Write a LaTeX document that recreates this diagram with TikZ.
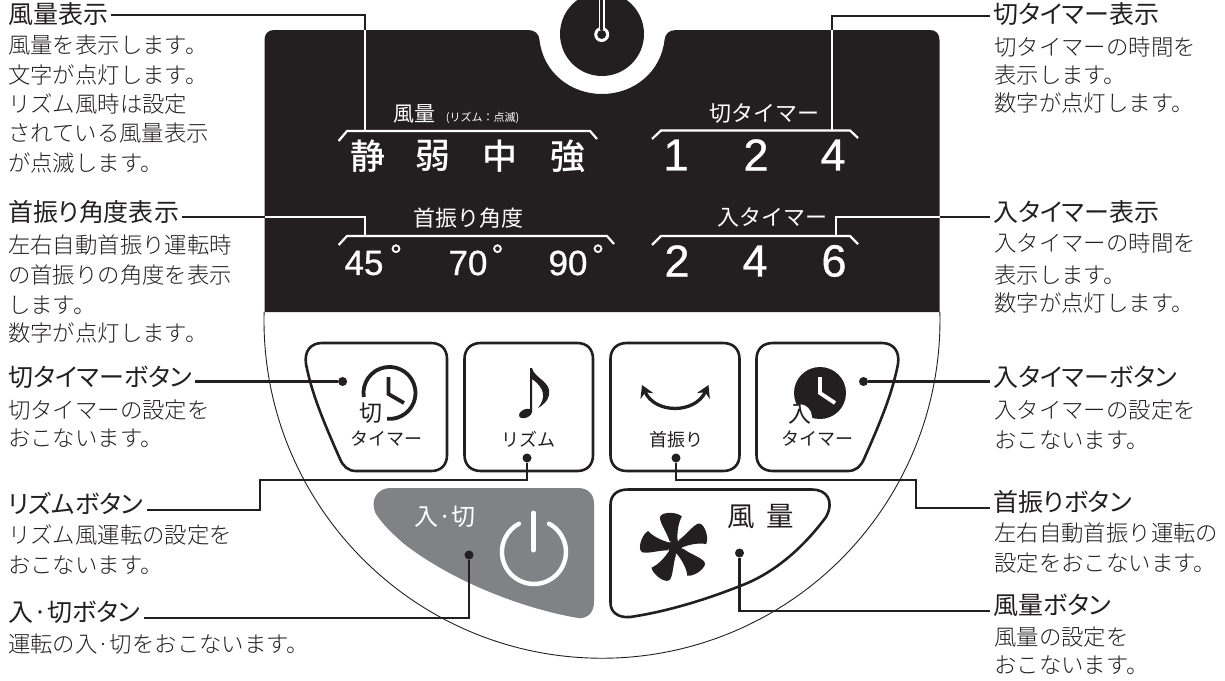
\documentclass[tikz,border=0pt]{standalone}
\usepackage{fontspec}
\setmainfont{Noto Sans CJK JP Light}
\newfontfamily\jr{Noto Sans CJK JP}
\newfontfamily\jh[RawFeature={+palt}]{Noto Sans CJK JP}
\newfontfamily\jm{Noto Sans CJK JP Medium}
\newfontfamily\dg[FakeBold=0.8]{Liberation Sans}
\usetikzlibrary{arrows.meta}
\definecolor{ink}{HTML}{231F20}
\definecolor{midgray}{HTML}{808285}
\newcommand{\fsz}[1]{\fontsize{#1pt}{#1pt}\selectfont}
\tikzset{
  head/.style={anchor=west,inner xsep=3pt,inner ysep=0pt,text=ink,text height=.85em,text depth=.15em,font=\jh\fsz{25}},
  body/.style={anchor=west,inner sep=0pt,text=ink,text height=.85em,text depth=.15em,font=\fsz{22.4}},
  lead/.style={draw=ink,line width=2.3pt},
  wlead/.style={draw=white,line width=2.3pt},
  brk/.style={draw=white,line width=2.2pt},
  btn/.style={draw=ink,line width=2.6pt,line join=round},
  panT/.style={text=white,inner sep=0pt},
  btnT/.style={text=ink,inner sep=0pt,font=\jr\fsz{18}},
  dotm/.style={circle,fill=ink,minimum size=9pt,inner sep=0pt},
}
\begin{document}
\begin{tikzpicture}[x=1pt,y=-1pt]
\useasboundingbox (0,0) rectangle (1225,680);
% outer arc
\coordinate (arcL) at (264.1,312);
\draw[ink,line width=0.9pt] (arcL) arc[start angle=178.6,end angle=361.4,radius=338pt];
% panel
\fill[ink] (264.5,312) -- (264.5,40) .. controls (264.5,34) and (268,30) .. (274,30)
  -- (528,30) .. controls (535,30) and (539,34) .. (539.5,40)
  .. controls (543,72) and (570,94) .. (602,94) .. controls (634,94) and (661,72) .. (664.5,40)
  .. controls (665,34) and (669,30) .. (676,30) -- (930,30)
  .. controls (936,30) and (939.5,34) .. (939.5,40) -- (939.5,312) -- cycle;
% knob
\fill[ink] (602,34) circle[radius=42pt];
\draw[white,line width=6pt] (601.7,-2) -- (601.7,30);
\fill[white] (601.7,34.5) circle[radius=7.5pt];
\fill[ink] (601.7,34.5) circle[radius=4.5pt];
\draw[ink,line width=2.5pt] (601.7,-2) -- (601.7,30);
% brackets
\coordinate (b1a) at (338.6,141); \coordinate (b1b) at (347,131); \coordinate (b1c) at (590,131); \coordinate (b1d) at (597,139);
\coordinate (b2a) at (652,139); \coordinate (b2b) at (661,130.5); \coordinate (b2c) at (850,130.5); \coordinate (b2d) at (858,138);
\coordinate (b3a) at (338.6,245); \coordinate (b3b) at (347,236); \coordinate (b3c) at (607,236); \coordinate (b3d) at (614,244);
\coordinate (b4a) at (652,245); \coordinate (b4b) at (661,236); \coordinate (b4c) at (850,236); \coordinate (b4d) at (858,244);
\draw[brk] (b1a) -- (b1b) -- (b1c) -- (b1d);
\draw[brk] (b2a) -- (b2b) -- (b2c) -- (b2d);
\draw[brk] (b3a) -- (b3b) -- (b3c) -- (b3d);
\draw[brk] (b4a) -- (b4b) -- (b4c) -- (b4d);
% panel text
\node[panT,font=\jr\fsz{21}] (t1) at (414,114) {風量};
\node[panT,font=\jr\fsz{11}] (t1b) at (482.5,118) {(リズム：点滅)};
\node[panT,font=\jm\fsz{35}] (s1) at (368,156) {静};
\node[panT,font=\jm\fsz{35}] (s2) at (433,156) {弱};
\node[panT,font=\jm\fsz{35}] (s3) at (500,156) {中};
\node[panT,font=\jm\fsz{35}] (s4) at (568,156) {強};
\node[panT,font=\jr\fsz{22}] (t2) at (764,113) {切タイマー};
\node[panT,font=\dg\fsz{45}] (n1) at (676,155) {1};
\node[panT,font=\dg\fsz{45}] (n2) at (756,155) {2};
\node[panT,font=\dg\fsz{45}] (n3) at (833,155) {4};
\node[panT,font=\jr\fsz{22}] (t3) at (468,218) {首振り角度};
\node[panT,font=\jr\fsz{22}] (t4) at (772,217) {入タイマー};
\node[panT,font=\dg\fsz{35}] (a1) at (364,263) {45};
\node[panT,font=\dg\fsz{35}] (a2) at (468,263) {70};
\node[panT,font=\dg\fsz{35}] (a3) at (568,263) {90};
\node[panT,font=\dg\fsz{30}] (d1) at (396,255) {°};
\node[panT,font=\dg\fsz{30}] (d2) at (497.5,255) {°};
\node[panT,font=\dg\fsz{30}] (d3) at (598,255) {°};
\node[panT,font=\dg\fsz{45}] (m1) at (677,261) {2};
\node[panT,font=\dg\fsz{45}] (m2) at (755,261) {4};
\node[panT,font=\dg\fsz{45}] (m3) at (834,261) {6};
% buttons
\draw[btn] (322,343) -- (431,343) .. controls (441,343) and (447,349) .. (447,359) -- (447,455)
  .. controls (447,465) and (441,471) .. (431,471) -- (356,471) .. controls (348,471) and (343,466) .. (340,459)
  .. controls (325,425) and (312,395) .. (306,364) .. controls (304,351) and (311,343) .. (322,343) -- cycle;
\draw[btn] (481,343) -- (577,343) .. controls (587,343) and (593,349) .. (593,359) -- (593,455)
  .. controls (593,465) and (587,471) .. (577,471) -- (481,471) .. controls (471,471) and (464.5,465) .. (464.5,455)
  -- (464.5,359) .. controls (464.5,349) and (471,343) .. (481,343) -- cycle;
\draw[btn] (627,343) -- (723,343) .. controls (733,343) and (739.5,349) .. (739.5,359) -- (739.5,455)
  .. controls (739.5,465) and (733,471) .. (723,471) -- (627,471) .. controls (617,471) and (610.5,465) .. (610.5,455)
  -- (610.5,359) .. controls (610.5,349) and (617,343) .. (627,343) -- cycle;
\draw[btn] (773,343) -- (882,343) .. controls (893,343) and (900,351) .. (898,364)
  .. controls (892,395) and (879,425) .. (864,459) .. controls (861,466) and (856,471) .. (848,471)
  -- (773,471) .. controls (763,471) and (756.5,465) .. (756.5,455) -- (756.5,359) .. controls (756.5,349) and (763,343) .. (773,343) -- cycle;
% power button
\fill[midgray] (390,488) -- (578,488) .. controls (588,488) and (594,494) .. (594,504) -- (594,602)
  .. controls (594,612) and (588,619) .. (578,618) .. controls (520,608) and (450,580) .. (403,543)
  .. controls (392,533) and (384,526) .. (376,514) .. controls (369,500) and (378,488) .. (390,488) -- cycle;
\node[panT,font=\jr\fsz{24}] (pw) at (445,517) {入·切};
\coordinate (pwtop) at (533.5,513); \coordinate (pwmid) at (533.5,550);
\draw[white,line width=5pt,line cap=round] (pwtop) -- (pwmid);
\coordinate (pwarc) at (549,523.7);
\draw[white,line width=4.4pt,line cap=round] (pwarc) arc[start angle=62,end angle=-242,radius=32pt];
% fan button
\draw[btn] (628,489.5) -- (812,489.5) .. controls (826,489.5) and (835,500) .. (826,517)
  .. controls (800,552) and (770,575) .. (740,586) .. controls (705,600) and (665,612) .. (630,617)
  .. controls (618,618) and (610.5,612) .. (610.5,603) -- (610.5,505) .. controls (610.5,495) and (617,489.5) .. (628,489.5) -- cycle;
\node[text=ink,inner sep=0pt,font=\jr\fsz{27.5}] (fz) at (760.5,516.5) {風\hspace{11.5pt}量};
\foreach \a in {4,-68,-140,-212,-284}{
  \fill[ink,shift={(675,547)},rotate=\a] (-5,-6) .. controls (-7,-15) and (-13,-24) .. (-13,-30)
    .. controls (-13,-36) and (3,-36) .. (9,-30) .. controls (5,-24) and (3,-15) .. (3,-6) -- cycle;
}
\fill[ink] (675,547) circle[radius=7pt];
% icons
\coordinate (ck1) at (388.5,394); \coordinate (ck1h) at (388.5,377); \coordinate (ck1m) at (404,403);
\coordinate (ck1s) at (363.8,397);
\draw[ink,line width=3.8pt] (ck1s) arc[start angle=189,end angle=-95,radius=26pt];
\draw[ink,line width=3.8pt,line join=miter] (ck1h) -- (ck1) -- (ck1m);
\node[text=ink,inner sep=0pt,font=\jr\fsz{23}] (ki) at (370.5,413) {切};
\node[btnT] (l1) at (386.5,439) {タイマー};
\coordinate (ck2) at (820,393); \coordinate (ck2h) at (820,377); \coordinate (ck2m) at (835,403);
\fill[ink] (ck2) circle[radius=26pt];
\fill[white] (799,417) circle[radius=13pt];
\draw[white,line width=3.8pt] (ck2h) -- (ck2) -- (ck2m);
\node[text=ink,inner sep=0pt,font=\jr\fsz{23}] (ir) at (800,414) {入};
\node[btnT] (l4) at (817,439) {タイマー};
% note
\fill[ink] (530,368) -- (532,368) .. controls (534,378) and (552,382) .. (549,395)
  .. controls (548,401) and (543,405) .. (538,408) .. controls (546,398) and (545,388) .. (532,379)
  -- (532,412) -- (530,412) -- cycle;
\fill[ink,rotate around={25:(525.5,413.5)}] (525.5,413.5) ellipse[x radius=6.8pt,y radius=4.2pt];
\node[btnT] (l2) at (528,439.5) {リズム};
% swing arrow
\coordinate (swa) at (642,385); \coordinate (swb) at (708.5,385);
\draw[ink,line width=3.3pt,{Stealth[length=12pt,width=14pt]}-{Stealth[length=12pt,width=14pt]}]
  (swa) .. controls (655,414) and (695,414) .. (swb);
\node[btnT] (l3) at (676,439.5) {首振り};
% left labels
\node[head] (h1) at (5,20) {風量表示};
\node[body] at (8,50) {風量を表示します。};
\node[body] at (8,80) {文字が点灯します。};
\node[body] at (8,108.5) {リズム風時は設定};
\node[body] at (8,137.5) {されている風量表示};
\node[body] at (8,168) {が点滅します。};
\node[head] (h2) at (5,218) {首振り角度表示};
\node[body] at (8,250) {左右自動首振り運転時};
\node[body] at (8,280) {の首振りの角度を表示};
\node[body] at (8,310) {します。};
\node[body] at (8,338) {数字が点灯します。};
\node[head] (h3) at (5,383) {切タイマーボタン};
\node[body] at (8,415) {切タイマーの設定を};
\node[body] at (8,443) {おこないます。};
\node[head] (h4) at (5,510) {リズムボタン};
\node[body] at (8,540) {リズム風運転の設定を};
\node[body] at (8,570) {おこないます。};
\node[head] (h5) at (5,618) {入·切ボタン};
\node[body] at (8,649) {運転の入·切をおこないます。};
% right labels
\node[head] (r1) at (990,20) {切タイマー表示};
\node[body] at (994,52) {切タイマーの時間を};
\node[body] at (994,80) {表示します。};
\node[body] at (994,108) {数字が点灯します。};
\node[head] (r2) at (990,218) {入タイマー表示};
\node[body] at (994,248) {入タイマーの時間を};
\node[body] at (994,280) {表示します。};
\node[body] at (994,308) {数字が点灯します。};
\node[head] (r3) at (990,383) {入タイマーボタン};
\node[body] at (994,415) {入タイマーの設定を};
\node[body] at (994,445) {おこないます。};
\node[head] (r4) at (990,508) {首振りボタン};
\node[body] at (994,538) {左右自動首振り運転の};
\node[body] at (994,568) {設定をおこないます。};
\node[head] (r5) at (990,611) {風量ボタン};
\node[body] at (994,642) {風量の設定を};
\node[body] at (994,670) {おこないます。};
% dots
\node[dotm] (d3a) at (342.6,381.5) {};
\node[dotm] (d4a) at (863.5,381.5) {};
\node[dotm] (d2a) at (527,458) {};
\node[dotm] (dsw) at (676,458) {};
\node[dotm] (dpw) at (469,555) {};
\node[dotm] (dfa) at (739.5,553) {};
% leaders
\coordinate (c1y) at (0,15); \coordinate (c2y) at (0,16);
\coordinate (c1a) at (365,30); \coordinate (c1b) at (365,131);
\draw[lead] (h1.east |- c1y) -| (c1a);
\draw[wlead] (c1a) -- (c1b);
\coordinate (c2a) at (832,30); \coordinate (c2b) at (832,130.5);
\draw[lead] (r1.west |- c2y) -| (c2a);
\draw[wlead] (c2a) -- (c2b);
\coordinate (c3a) at (264.5,217); \coordinate (c3b) at (365,236);
\draw[lead] (h2.east |- c3a) -- (c3a);
\draw[wlead] (c3a) -| (c3b);
\coordinate (c4a) at (939.5,217); \coordinate (c4b) at (836,236);
\draw[lead] (r2.west |- c4a) -- (c4a);
\draw[wlead] (c4a) -| (c4b);
\draw[lead] (h3.east |- d3a) -- (d3a);
\draw[lead] (r3.west |- d4a) -- (d4a);
\coordinate (c5a) at (260,480);
\draw[lead] (d2a) |- (c5a) |- (h4.east);
\coordinate (c6a) at (916,480);
\draw[lead] (dsw) |- (c6a) |- (r4.west);
\draw[lead] (dpw) |- (h5.east);
\draw[lead] (dfa) |- (r5.west);
\end{tikzpicture}
\end{document}
